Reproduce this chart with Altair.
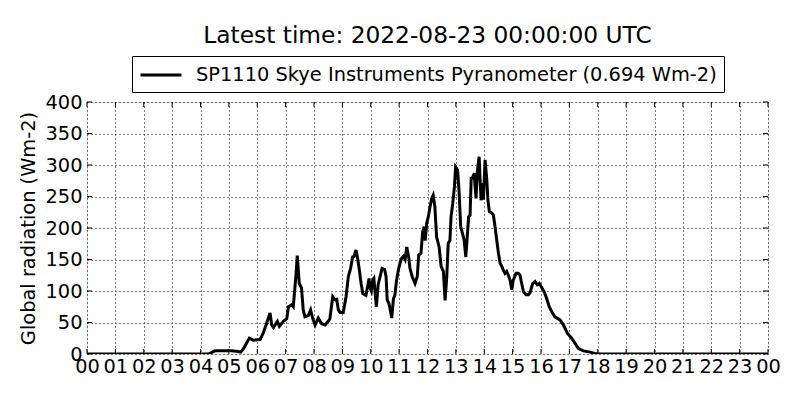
import altair as alt
import pandas as pd

title_text = "Latest time: 2022-08-23 00:00:00 UTC"
series_name = "SP1110 Skye Instruments Pyranometer (0.694 Wm-2)"
y_title = "Global radiation (Wm-2)"

hours = [
    0.0, 4.2, 4.28, 4.51, 4.8, 5.1, 5.33, 5.42, 5.51, 5.72, 5.86, 6.10, 6.21, 6.31, 6.45,
    6.51, 6.57, 6.71, 6.78, 6.92, 7.04, 7.10, 7.21, 7.27, 7.37, 7.41, 7.48, 7.56, 7.62,
    7.68, 7.80, 7.88, 7.95, 8.04, 8.15, 8.27, 8.39, 8.50, 8.56, 8.66, 8.74, 8.80, 8.86,
    8.92, 9.03, 9.13, 9.21, 9.29, 9.36, 9.41, 9.48, 9.54, 9.60, 9.66, 9.72, 9.83, 9.89,
    9.94, 9.97, 10.02, 10.07, 10.11, 10.16, 10.20, 10.26, 10.33, 10.40, 10.49, 10.54,
    10.58, 10.64, 10.68, 10.74, 10.80, 10.85, 10.91, 10.97, 11.03, 11.09, 11.15, 11.21,
    11.27, 11.35, 11.38, 11.46, 11.56, 11.64, 11.69, 11.77, 11.83, 11.88, 11.92, 11.97,
    12.03, 12.09, 12.15, 12.20, 12.26, 12.32, 12.41, 12.48, 12.56, 12.62, 12.68, 12.73,
    12.79, 12.83, 12.89, 12.95, 12.99, 13.06, 13.11, 13.17, 13.23, 13.29, 13.35, 13.40,
    13.45, 13.50, 13.54, 13.59, 13.65, 13.67, 13.71, 13.76, 13.82, 13.85, 13.89, 13.93,
    13.97, 14.03, 14.09, 14.13, 14.18, 14.26, 14.32, 14.38, 14.44, 14.50, 14.56, 14.62,
    14.67, 14.73, 14.79, 14.85, 14.91, 14.97, 15.02, 15.12, 15.20, 15.26, 15.32, 15.38,
    15.47, 15.55, 15.61, 15.71, 15.79, 15.87, 15.94, 16.02, 16.11, 16.20, 16.29, 16.38,
    16.49, 16.67, 16.79, 16.93, 17.08, 17.20, 17.31, 17.49, 17.73, 17.90, 18.08, 24.0,
]
radiation = [
    0, 0, 0, 5, 5, 5, 4, 3, 8, 25, 22, 23, 33, 46, 65,
    46, 42, 52, 44, 52, 56, 75, 78, 75, 128, 156, 112, 105, 70,
    59, 61, 70, 57, 46, 57, 48, 46, 52, 56, 91, 86, 87, 70,
    66, 66, 91, 123, 136, 154, 155, 165, 151, 133, 112, 96, 93, 107,
    120, 105, 100, 117, 120, 94, 75, 110, 123, 136, 134, 123,
    86, 80, 72, 57, 88, 93, 117, 133, 144, 152, 155, 150,
    170, 150, 136, 123, 112, 123, 157, 160, 194, 202, 180, 207,
    218, 234, 247, 252, 234, 186, 170, 139, 131, 85, 123, 176,
    180, 218, 239, 266, 297, 292, 260, 202, 192, 181, 154, 186,
    218, 220, 279, 280, 287, 270, 247, 292, 313, 280, 244, 271,
    245, 308, 276, 244, 226, 224, 221, 202, 181, 160, 144, 139,
    133, 128, 131, 125, 117, 102, 117, 128, 128, 125, 112, 99,
    94, 94, 97, 112, 115, 110, 112, 106, 99, 88, 75, 67,
    59, 54, 46, 33, 25, 17, 9, 5, 3, 1, 0, 0,
]
x_ticks = list(range(0, 25))
y_ticks = list(range(0, 401, 50))

FONT = "DejaVu Sans"
FS = 19.4
W, H = 681, 252
TICK = 5

df = pd.DataFrame({"hour": hours, "radiation": radiation, "series": series_name})
xt = pd.DataFrame({"hour": x_ticks})
yt = pd.DataFrame({"radiation": y_ticks})

xscale = alt.Scale(domain=[0, 24], nice=False, zero=False)
yscale = alt.Scale(domain=[0, 400], nice=False)

xaxis = alt.Axis(
    values=x_ticks, labelExpr="format(datum.value % 24, '02d')", title=None,
    grid=True, gridDash=[1, 3], gridColor="black", gridOpacity=1, gridWidth=1,
    ticks=False, domain=False, labelFontSize=FS, labelFont=FONT, labelColor="black",
    labelPadding=3, labelFlush=False, labelOverlap=False,
)
yaxis = alt.Axis(
    values=y_ticks, title=y_title, titleFont=FONT, titleFontSize=FS,
    titleFontWeight="normal", titleColor="black", titlePadding=6,
    grid=True, gridDash=[1, 3], gridColor="black", gridOpacity=1, gridWidth=1,
    ticks=False, domain=False, labelFontSize=FS, labelFont=FONT, labelColor="black",
    labelPadding=5, labelFlush=False, labelOverlap=False,
)

line = alt.Chart(df).mark_line(strokeWidth=3, clip=True).encode(
    x=alt.X("hour:Q", scale=xscale, axis=xaxis),
    y=alt.Y("radiation:Q", scale=yscale, axis=yaxis),
    color=alt.Color(
        "series:N",
        scale=alt.Scale(domain=[series_name], range=["black"]),
        legend=alt.Legend(
            title=None, orient="none", legendX=45, legendY=-46,
            symbolType="M-1,0H2.9", symbolStrokeWidth=3, symbolSize=441,
            symbolFillColor="transparent",
            strokeColor="black", fillColor="white", padding=7, cornerRadius=0,
            labelFontSize=FS, labelFont=FONT, labelColor="black", labelOffset=33,
            labelLimit=0,
        ),
    ),
)

tick_style = dict(color="black", strokeWidth=1)
bottom_ticks = alt.Chart(xt).mark_rule(**tick_style).encode(
    x=alt.X("hour:Q", scale=xscale, axis=xaxis), y=alt.value(H - TICK), y2=alt.value(H)
)
top_ticks = alt.Chart(xt).mark_rule(**tick_style).encode(
    x=alt.X("hour:Q", scale=xscale, axis=xaxis), y=alt.value(0), y2=alt.value(TICK)
)
left_ticks = alt.Chart(yt).mark_rule(**tick_style).encode(
    y=alt.Y("radiation:Q", scale=yscale, axis=yaxis), x=alt.value(0), x2=alt.value(TICK)
)
right_ticks = alt.Chart(yt).mark_rule(**tick_style).encode(
    y=alt.Y("radiation:Q", scale=yscale, axis=yaxis), x=alt.value(W - TICK), x2=alt.value(W)
)

chart = alt.layer(line, bottom_ticks, top_ticks, left_ticks, right_ticks).properties(
    width=W, height=H,
    autosize=alt.AutoSizeParams(type="none"),
    padding={"left": 79, "top": 94, "right": 16, "bottom": 30},
    title=alt.TitleParams(
        title_text, font=FONT, fontSize=23.3, fontWeight="normal", color="black",
        anchor="middle", offset=7,
    ),
).configure_view(stroke="black", strokeWidth=1.2).configure(background="white")

chart.save("out.html", embed_options={"renderer": "svg", "actions": False})
